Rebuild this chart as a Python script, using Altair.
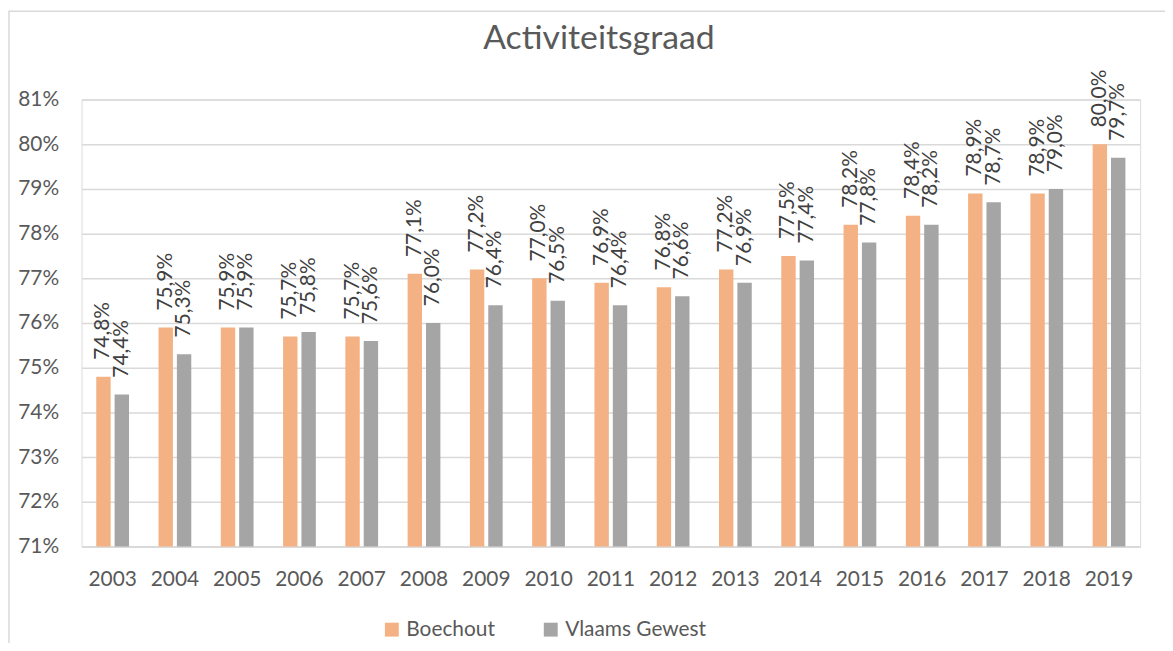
import altair as alt
import pandas as pd

years = [str(y) for y in range(2003, 2020)]
boechout = [74.8, 75.9, 75.9, 75.7, 75.7, 77.1, 77.2, 77.0, 76.9, 76.8, 77.2, 77.5, 78.2, 78.4, 78.9, 78.9, 80.0]
vlaams = [74.4, 75.3, 75.9, 75.8, 75.6, 76.0, 76.4, 76.5, 76.4, 76.6, 76.9, 77.4, 77.8, 78.2, 78.7, 79.0, 79.7]
series = ["Boechout", "Vlaams Gewest"]
colors = ["#F4B183", "#A5A5A5"]
y_ticks = [0.71, 0.72, 0.73, 0.74, 0.75, 0.76, 0.77, 0.78, 0.79, 0.80, 0.81]
title_text = "Activiteitsgraad"

rows = []
for i, yr in enumerate(years):
    for s, vals in zip(series, [boechout, vlaams]):
        v = vals[i]
        rows.append({
            "year": yr,
            "series": s,
            "value": v / 100.0,
            "label": f"{v:.1f}".replace(".", ",") + "%",
        })
df = pd.DataFrame(rows)

FONT = "Lato"
GRID = "#D9D9D9"

x_enc = alt.X(
    "year:N", sort=years, title=None,
    scale=alt.Scale(paddingInner=0.474, paddingOuter=0.237),
    axis=alt.Axis(labelAngle=0, ticks=False, domain=True, domainColor=GRID,
                  domainWidth=1.5, labelFontSize=21, labelFont=FONT,
                  labelColor="#595959", labelPadding=22, grid=False),
)
xoff_enc = alt.XOffset("series:N", sort=series,
                       scale=alt.Scale(paddingInner=0.216, paddingOuter=0))
y_enc = alt.Y(
    "value:Q", title=None,
    scale=alt.Scale(domain=[0.71, 0.81], zero=False, nice=False),
    axis=alt.Axis(values=y_ticks, format=".0%", grid=True, gridColor=GRID,
                  gridWidth=1.5, domain=False, ticks=False, labelFontSize=21,
                  labelFont=FONT, labelColor="#595959", labelPadding=23),
)

base = alt.Chart(df)

bars = base.mark_bar().encode(
    x=x_enc,
    xOffset=xoff_enc,
    y=y_enc,
    y2=alt.datum(0.71),
    color=alt.Color(
        "series:N", sort=series,
        scale=alt.Scale(domain=series, range=colors),
        legend=alt.Legend(
            orient="none", legendX=302, legendY=523, direction="horizontal",
            title=None, symbolType="square", symbolSize=196,
            symbolStrokeWidth=0, labelFontSize=21, labelFont=FONT,
            labelColor="#595959", columnPadding=45, labelOffset=4, padding=0,
        ),
    ),
)

labels = base.mark_text(
    angle=270, align="left", baseline="middle", dx=17,
    fontSize=21, font=FONT, color="#404040",
).encode(
    x=x_enc,
    xOffset=xoff_enc,
    y=y_enc,
    text="label:N",
)

title = alt.Chart(pd.DataFrame({"t": [title_text]})).mark_text(
    align="center", baseline="alphabetic", fontSize=34, font=FONT,
    color="#595959",
).encode(text="t:N", x=alt.value(521), y=alt.value(-51))

border = alt.Chart(pd.DataFrame({"b": [1]})).mark_rect(
    fill=None, stroke=GRID, strokeWidth=1.5,
).encode(x=alt.value(-73), x2=alt.value(1120), y=alt.value(-89), y2=alt.value(620))

chart = alt.layer(border, bars, labels, title).properties(
    width=1066, height=450,
    padding={"left": 74, "top": 90, "right": 25, "bottom": 95},
    autosize=alt.AutoSizeParams(type="none"),
).configure_view(stroke=None).configure(font=FONT)

chart.save("out.html", embed_options={"renderer": "svg", "actions": False})
